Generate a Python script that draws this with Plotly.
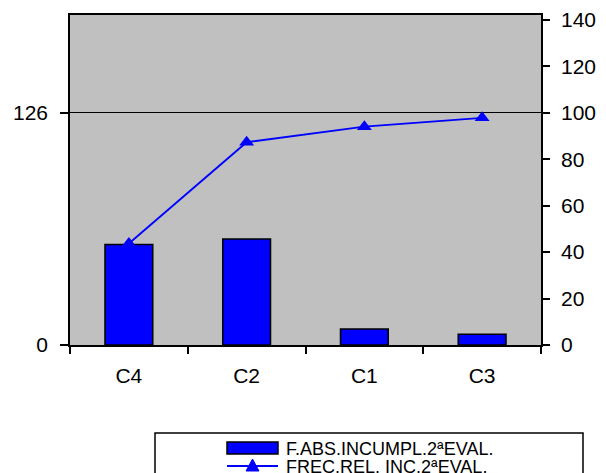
import plotly.graph_objects as go

categories = ["C4", "C2", "C1", "C3"]
abs_values = [54.5, 57.5, 8.7, 5.8]
rel_values = [43.7, 87.3, 94.0, 97.8]
left_ticks = [0, 126]
right_ticks = [0, 20, 40, 60, 80, 100, 120, 140]
legend_names = ["F.ABS.INCUMPL.2ªEVAL.", "FREC.REL. INC.2ªEVAL."]

FONT = "Liberation Sans, Arial, sans-serif"
BLUE = "#0000FF"

# page has an 8px body margin; figure is sized to fill the 606x473 window
W, H = 598, 465
L, R, T, B = 62, 65, 7, 128
PW, PH = W - L - R, H - T - B


def px(x):  # page x -> paper x
    return (x - 8 - L) / PW


def py(y):  # page y -> paper y
    return 1 - (y - 8 - T) / PH


fig = go.Figure()
fig.add_trace(go.Bar(
    x=categories, y=abs_values, name=legend_names[0],
    marker=dict(color=BLUE, line=dict(color="black", width=1.6)),
    width=0.405, yaxis="y"))
fig.add_trace(go.Scatter(
    x=categories, y=rel_values, name=legend_names[1],
    mode="lines+markers", line=dict(color=BLUE, width=1.8),
    marker=dict(symbol="triangle-up", size=13, color=BLUE),
    yaxis="y2"))

shapes = [
    # legend box
    dict(type="rect", xref="paper", yref="paper",
         x0=px(155), x1=px(583), y0=py(495), y1=py(433),
         line=dict(color="black", width=1.5), fillcolor="white", layer="above"),
    # bar symbol
    dict(type="rect", xref="paper", yref="paper",
         x0=px(227), x1=px(278), y0=py(454), y1=py(442),
         line=dict(color="black", width=1.5), fillcolor=BLUE, layer="above"),
    # line symbol
    dict(type="line", xref="paper", yref="paper",
         x0=px(227), x1=px(278), y0=py(466), y1=py(466),
         line=dict(color=BLUE, width=1.8), layer="above"),
    dict(type="path", xref="paper", yref="paper",
         path=f"M {px(246)} {py(471)} L {px(259)} {py(471)} L {px(252.5)} {py(459)} Z",
         line=dict(color=BLUE, width=1), fillcolor=BLUE, layer="above"),
]

annotations = [
    dict(text=legend_names[0], xref="paper", yref="paper", x=px(284), y=py(448.5),
         xanchor="left", yanchor="middle", showarrow=False,
         font=dict(size=18, family=FONT, color="black")),
    dict(text=legend_names[1], xref="paper", yref="paper", x=px(284), y=py(467),
         xanchor="left", yanchor="middle", showarrow=False,
         font=dict(size=18, family=FONT, color="black")),
]

fig.update_layout(
    width=W, height=H,
    margin=dict(l=L, r=R, t=T, b=B, autoexpand=False),
    paper_bgcolor="white", plot_bgcolor="#C0C0C0",
    font=dict(family=FONT, size=21, color="black"),
    showlegend=False,
    shapes=shapes, annotations=annotations,
    xaxis=dict(
        type="category", tickson="boundaries", ticks="outside", ticklen=7,
        tickcolor="black", tickwidth=1.5, showline=True, linecolor="black",
        linewidth=1.6, mirror=True, showgrid=False, ticklabelstandoff=11,
        tickangle=0),
    yaxis=dict(
        range=[0, 179.0], tickvals=left_ticks, ticks="outside", ticklen=8,
        tickcolor="black", tickwidth=1.5, showline=True, linecolor="black",
        linewidth=1.6, showgrid=True, gridcolor="black", gridwidth=1.4,
        zeroline=False, ticklabelstandoff=8),
    yaxis2=dict(
        range=[0, 142.06], tickvals=right_ticks, overlaying="y", side="right",
        ticks="outside", ticklen=7, tickcolor="black", tickwidth=1.5,
        showline=True, linecolor="black", linewidth=1.6, showgrid=False,
        zeroline=False, ticklabelstandoff=7),
)

fig.write_html("out.html")
